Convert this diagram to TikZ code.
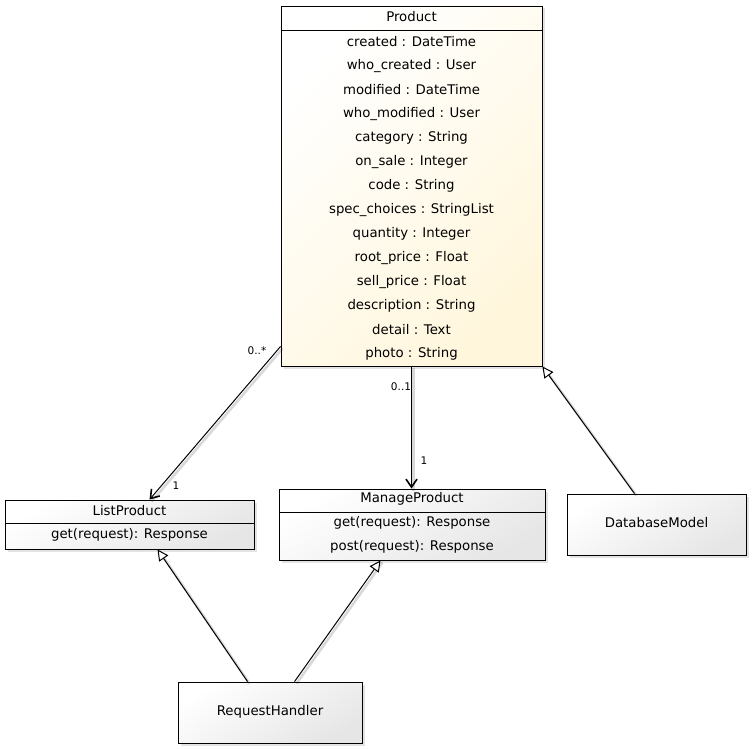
\documentclass[tikz,border=0pt]{standalone}
\usepackage{fontspec}
\setmainfont{DejaVu Sans}
\usetikzlibrary{arrows.meta,calc,shadows}
\definecolor{cream}{HTML}{FFF6DC}
\definecolor{pale}{HTML}{E6E6E6}
\tikzset{
  umlbox/.style={draw=black, line width=0.9pt, rectangle, inner sep=0pt,
    drop shadow={shadow xshift=2.5pt, shadow yshift=-2.5pt, opacity=0.22},
    top color=white, bottom color=pale, shading angle=30},
  entity/.style={umlbox, top color=white, bottom color=cream, shading angle=45},
  member/.style={font=\fontsize{13.3}{16}\selectfont, inner sep=0pt, anchor=center},
  mult/.style={font=\fontsize{10.5}{12}\selectfont, inner sep=0pt},
  divider/.style={line width=0.9pt},
  lineshadow/.style={preaction={draw=black, opacity=0.15, line width=2.6pt, -,
    transform canvas={xshift=2pt, yshift=-2pt}}},
  assoc/.style={lineshadow, line width=1pt, -{Straight Barb[length=8pt,width=11pt,line width=1.6pt]}},
  inherit/.style={lineshadow, line width=1pt, -{Triangle[open,length=11pt,width=11pt,fill=white]}}
}
\begin{document}
\begin{tikzpicture}[x=1pt,y=-1pt]
\useasboundingbox (0,0) rectangle (752,749);

% Product entity with its attributes
\node[entity, minimum width=261pt, minimum height=360pt] (Product) at (411.5,186) {};
\draw[divider] (281,30) -- (542,30);
\node[member] (ptitle) at (411.5,17) {Product};
\foreach \txt [count=\i from 0] in {created : DateTime, who\_created : User, modified : DateTime,
    who\_modified : User, category : String, on\_sale : Integer, code : String,
    spec\_choices : StringList, quantity : Integer, root\_price : Float, sell\_price : Float,
    description : String, detail : Text, photo : String}
  \node[member] (pattr\i) at (411.5,{42+24*\i}) {\txt};

% ListProduct view
\node[umlbox, minimum width=249pt, minimum height=49pt] (LP) at (129.5,524.5) {};
\draw[divider] (5,523) -- (254,523);
\node[member] (lptitle) at (129.5,511) {ListProduct};
\node[member] (lpget) at (129.5,535) {get(request): Response};

% ManageProduct view
\node[umlbox, minimum width=266pt, minimum height=71pt] (MP) at (412,524.5) {};
\draw[divider] (279,512) -- (545,512);
\node[member] (mptitle) at (412,499) {ManageProduct};
\node[member] (mpget) at (412,523) {get(request): Response};
\node[member] (mppost) at (412,547) {post(request): Response};

% DatabaseModel base class
\node[umlbox, minimum width=179pt, minimum height=61pt] (DB) at (656.5,524.5) {};
\node[member] (dbtitle) at (656.5,523) {DatabaseModel};

% RequestHandler base class
\node[umlbox, minimum width=184pt, minimum height=61pt] (RH) at (270,712.5) {};
\node[member] (rhtitle) at (270,712) {RequestHandler};

% associations with multiplicities
\draw[assoc] ($(Product.south west)+(0,-20)$) -- ($(LP.north west)+(145,0)$);
\node[mult] (m1) at (257,351) {0..*};
\node[mult] (m2) at (176,486) {1};
\draw[assoc] (Product.south) -- (Product.south |- MP.north);
\node[mult] (m3) at (401,387) {0..1};
\node[mult] (m4) at (424,461) {1};

% generalizations
\draw[inherit] ($(DB.north)+(-22,0)$) -- (Product.south east);
\draw[inherit] ($(RH.north west)+(70,0)$) -- ($(LP.south west)+(153,0)$);
\draw[inherit] ($(RH.north west)+(117,0)$) -- ($(MP.south west)+(102,0)$);
\end{tikzpicture}
\end{document}
